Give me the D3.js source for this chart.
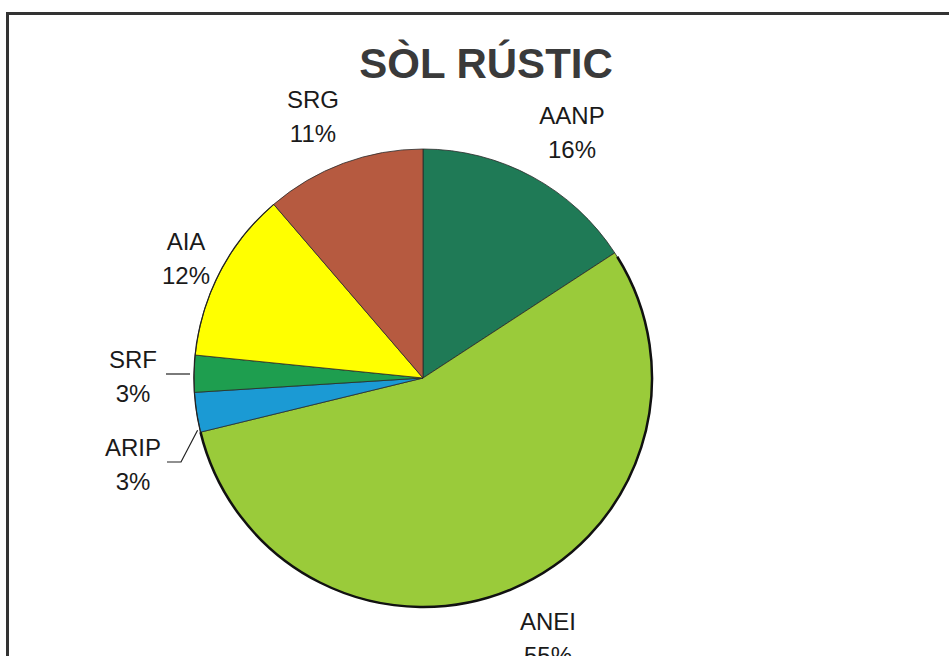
<!DOCTYPE html>
<html>
<head>
<meta charset="utf-8">
<script src="https://cdn.jsdelivr.net/npm/d3@7"></script>
<style>
  html, body { margin: 0; padding: 0; background: #fff; }
  svg { display: block; }
</style>
</head>
<body>
<svg id="chart" width="949" height="656"></svg>
<script>
// ---- data ----
const title = "SÒL RÚSTIC";
const categories = ["AANP", "ANEI", "ARIP", "SRF", "AIA", "SRG"];
const values = [15.8, 55.4, 2.8, 2.6, 12.1, 11.3];
const colors = ["#1f7a56", "#9acb3a", "#1b9ad4", "#1e9e4f", "#ffff00", "#b65a40"];

// ---- layout ----
const W = 949, H = 656;
const cx = 423, cy = 378, R = 229;
const labelPos = {
  AANP: [572, 124], ANEI: [548, 630], ARIP: [133, 456],
  SRF: [133, 368], AIA: [186, 250], SRG: [313, 108]
};
const lineGap = 34;

const svg = d3.select("#chart");
svg.append("rect").attr("width", W).attr("height", H).attr("fill", "#fff");

// frame
svg.append("path")
  .attr("d", `M7.5,${H} L7.5,13.5 L${W},13.5`)
  .attr("fill", "none").attr("stroke", "#333").attr("stroke-width", 3);

// title
svg.append("text")
  .attr("x", 486).attr("y", 78)
  .attr("text-anchor", "middle")
  .attr("font-family", "Liberation Sans, Arial, sans-serif")
  .attr("font-weight", "bold").attr("font-size", 42)
  .attr("fill", "#3a3a3a")
  .text(title);

const data = categories.map((c, i) => ({ name: c, value: values[i], color: colors[i] }));
const pie = d3.pie().value(d => d.value).sort(null);
const arcs = pie(data);
const arc = d3.arc().innerRadius(0).outerRadius(R);

const g = svg.append("g").attr("transform", `translate(${cx},${cy})`);
g.selectAll("path.slice").data(arcs).join("path")
  .attr("class", "slice")
  .attr("d", arc)
  .attr("fill", d => d.data.color)
  .attr("stroke", "#2a2a2a").attr("stroke-width", 0.8).attr("stroke-linejoin", "round");

// outer outline on the left/bottom edge (ANEI through AIA)
const aneiArc = arcs[1], aiaArc = arcs[4];
g.append("path")
  .attr("d", d3.arc()({ innerRadius: R, outerRadius: R, startAngle: aneiArc.startAngle + 0.02, endAngle: aneiArc.endAngle }))
  .attr("fill", "none").attr("stroke", "#111").attr("stroke-width", 2.5);
g.append("path")
  .attr("d", d3.arc()({ innerRadius: R, outerRadius: R, startAngle: arcs[2].startAngle, endAngle: aiaArc.endAngle }))
  .attr("fill", "none").attr("stroke", "#222").attr("stroke-width", 1.2);

// leader lines for small slices
function edgePoint(a, frac) {
  const ang = a.startAngle + (a.endAngle - a.startAngle) * frac;
  return [cx + R * Math.sin(ang), cy - R * Math.cos(ang)];
}
const srf = arcs[3], arip = arcs[2];
const pSrf = edgePoint(srf, 0.5);
svg.append("polyline")
  .attr("points", [[166, 374], [pSrf[0] - 4, 374]].map(p => p.join(",")).join(" "))
  .attr("fill", "none").attr("stroke", "#222").attr("stroke-width", 1.2);
const pArip = edgePoint(arip, 0.1);
svg.append("polyline")
  .attr("points", [[167, 462], [181, 462], [pArip[0] - 2, pArip[1] + 2]].map(p => p.join(",")).join(" "))
  .attr("fill", "none").attr("stroke", "#222").attr("stroke-width", 1.2);

// labels
const lab = svg.append("g")
  .attr("font-family", "Liberation Sans, Arial, sans-serif")
  .attr("font-size", 24).attr("fill", "#1a1a1a")
  .attr("text-anchor", "middle");
arcs.forEach(a => {
  const [x, y] = labelPos[a.data.name];
  const t = lab.append("text").attr("x", x).attr("y", y);
  t.append("tspan").attr("x", x).attr("y", y).text(a.data.name);
  t.append("tspan").attr("x", x).attr("y", y + lineGap).text(Math.round(a.data.value) + "%");
});
</script>
</body>
</html>
